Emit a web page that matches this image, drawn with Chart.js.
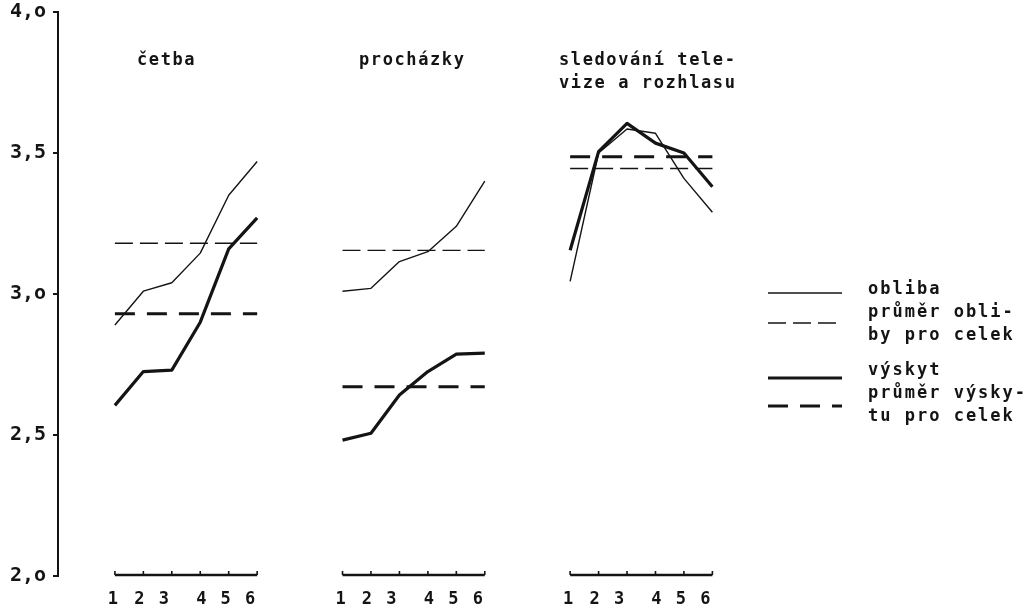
<!DOCTYPE html>
<html>
<head>
<meta charset="utf-8">
<script src="https://cdn.jsdelivr.net/npm/chart.js@4/dist/chart.umd.min.js"></script>
<style>
  html, body { margin: 0; padding: 0; background: #fff; }
  #wrap { width: 1031px; height: 611px; position: relative; }
</style>
</head>
<body>
<div id="wrap"><canvas id="c" width="1031" height="611"></canvas></div>
<script>
// ---------- DATA ----------
const groupTitles = [['četba'], ['procházky'], ['sledování tele-', 'vize a rozhlasu']];
const stepLabels = ['1', '2', '3', '4', '5', '6'];
const groupStart = [1, 9, 17];          // x value of step "1" in each group
const yTickLabels = ['2,o', '2,5', '3,o', '3,5', '4,o'];

const oblibaCetba    = [2.89, 3.01, 3.04, 3.145, 3.35, 3.47];
const vyskytCetba    = [2.605, 2.725, 2.73, 2.90, 3.16, 3.27];
const oblibaProchazky = [3.01, 3.02, 3.115, 3.15, 3.24, 3.40];
const vyskytProchazky = [2.482, 2.506, 2.642, 2.725, 2.787, 2.79];
const oblibaTV       = [3.045, 3.50, 3.585, 3.57, 3.41, 3.29];
const vyskytTV       = [3.155, 3.505, 3.605, 3.535, 3.50, 3.38];
const prumerObliby   = [3.18, 3.155, 3.445];
const prumerVyskytu  = [2.93, 2.671, 3.487];

const legendLabels = [['obliba'], ['průměr obli-', 'by pro celek'], ['výskyt'], ['průměr výsky-', 'tu pro celek']];

// ---------- STYLES ----------
const INK = '#141414';
const styles = {
  obliba:  { borderColor: INK, borderWidth: 1.4, borderDash: [] },
  prumO:   { borderColor: INK, borderWidth: 1.3, borderDash: [18, 7] },
  vyskyt:  { borderColor: INK, borderWidth: 3.2, borderDash: [] },
  prumV:   { borderColor: INK, borderWidth: 3.0, borderDash: [20, 12] }
};
const legendStyleKeys = ['obliba', 'prumO', 'vyskyt', 'prumV'];

const oblibaSeries = [oblibaCetba, oblibaProchazky, oblibaTV];
const vyskytSeries = [vyskytCetba, vyskytProchazky, vyskytTV];

function toPoints(vals, g) {
  return vals.map((v, i) => ({ x: groupStart[g] + i, y: v }));
}
function meanLine(v, g) {
  return [{ x: groupStart[g], y: v }, { x: groupStart[g] + stepLabels.length - 1, y: v }];
}

const datasets = [];
for (let g = 0; g < 3; g++) {
  datasets.push(Object.assign({ label: 'průměr obliby ' + g, data: meanLine(prumerObliby[g], g) }, styles.prumO));
  datasets.push(Object.assign({ label: 'průměr výskytu ' + g, data: meanLine(prumerVyskytu[g], g) }, styles.prumV));
  datasets.push(Object.assign({ label: 'obliba ' + g, data: toPoints(oblibaSeries[g], g) }, styles.obliba));
  datasets.push(Object.assign({ label: 'výskyt ' + g, data: toPoints(vyskytSeries[g], g) }, styles.vyskyt));
}
datasets.forEach(d => {
  d.pointRadius = 0; d.tension = 0; d.fill = false;
  d.borderJoinStyle = 'round'; d.borderCapStyle = 'butt';
});

const FONT = 'bold 17px "DejaVu Sans Mono", monospace';

const decor = {
  id: 'decor',
  afterDraw(chart) {
    const ctx = chart.ctx;
    const xs = chart.scales.x;
    const area = chart.chartArea;
    ctx.save();
    ctx.strokeStyle = INK;
    ctx.fillStyle = INK;

    // group x-axes
    const labelShift = [-2, -4, -8, 1, -3, -7];
    const axY = area.bottom - 1;
    for (let g = 0; g < 3; g++) {
      const x0 = xs.getPixelForValue(groupStart[g]);
      const x1 = xs.getPixelForValue(groupStart[g] + stepLabels.length - 1);
      ctx.lineWidth = 2.4;
      ctx.setLineDash([]);
      ctx.beginPath();
      ctx.moveTo(x0, axY); ctx.lineTo(x1, axY);
      ctx.stroke();
      ctx.lineWidth = 1.6;
      ctx.font = FONT;
      ctx.textAlign = 'center';
      ctx.textBaseline = 'middle';
      stepLabels.forEach((lab, i) => {
        const px = xs.getPixelForValue(groupStart[g] + i);
        ctx.beginPath();
        ctx.moveTo(px, axY); ctx.lineTo(px, axY - 4);
        ctx.stroke();
        ctx.fillText(lab, px + labelShift[i], 600);
      });
    }

    // group titles
    const titleX = [137, 359, 559];
    ctx.font = FONT;
    ctx.textAlign = 'left';
    ctx.textBaseline = 'middle';
    ctx.letterSpacing = '1.6px';
    groupTitles.forEach((lines, g) => {
      lines.forEach((t, k) => ctx.fillText(t, titleX[g], 61 + k * 23));
    });

    // legend
    const lineY = [293, 323, 378, 406];
    const textY = [[290], [313, 336], [371], [394, 417]];
    ctx.letterSpacing = '2px';
    legendLabels.forEach((lines, i) => {
      const st = styles[legendStyleKeys[i]];
      ctx.lineWidth = st.borderWidth;
      ctx.setLineDash(st.borderDash);
      ctx.beginPath();
      ctx.moveTo(768, lineY[i]); ctx.lineTo(842, lineY[i]);
      ctx.stroke();
      ctx.setLineDash([]);
      lines.forEach((t, k) => ctx.fillText(t, 868, textY[i][k]));
    });
    ctx.restore();
  }
};

new Chart(document.getElementById('c'), {
  type: 'line',
  data: { datasets },
  options: {
    responsive: false,
    animation: false,
    devicePixelRatio: 1,
    layout: { padding: { top: 12, bottom: 35, left: 0, right: 91 } },
    plugins: { legend: { display: false }, tooltip: { enabled: false } },
    scales: {
      x: { type: 'linear', min: -1, max: 30, display: false },
      y: {
        type: 'linear', min: 2, max: 4,
        afterFit(scale) { scale.width = 58; scale.paddingTop = 0; scale.paddingBottom = 0; },
        afterBuildTicks(scale) {
          scale.ticks = yTickLabels.map((_, i) => ({ value: 2 + i * 0.5 }));
        },
        border: { display: true, color: INK, width: 2 },
        grid: { drawOnChartArea: false, drawTicks: true, tickLength: 5, color: INK, lineWidth: 2 },
        ticks: {
          color: INK,
          padding: 7,
          font: { family: '"DejaVu Sans Mono", monospace', size: 20, weight: 'bold' },
          callback: (v, i) => yTickLabels[i]
        }
      }
    }
  },
  plugins: [decor]
});
</script>
</body>
</html>
